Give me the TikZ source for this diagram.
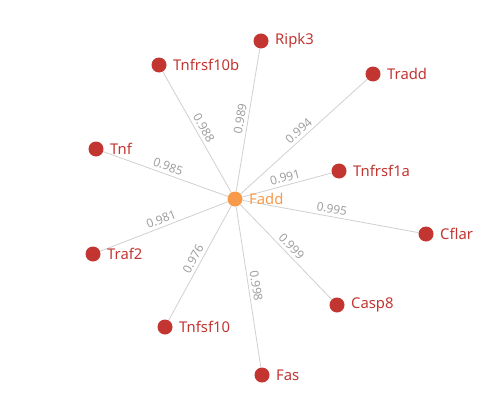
\documentclass[tikz,border=0pt]{standalone}
\usepackage{fontspec}
\setmainfont{Noto Sans}
\usepackage{xcolor}
\usepackage{tikz}
\usetikzlibrary{positioning, backgrounds}

\definecolor{genered}{HTML}{C23531}
\definecolor{huborange}{HTML}{F89A4C}
\definecolor{edgegray}{HTML}{D0D0D0}
\definecolor{scoregray}{HTML}{A0A0A0}

\begin{document}
\begin{tikzpicture}[x=1pt,y=1pt,
    gene/.style={circle,fill=genered,inner sep=0pt,minimum size=15pt,
        label={[text=genered,font=\fontsize{14.8}{17}\selectfont,label distance=3pt]right:#1}},
    hub/.style={circle,fill=huborange,inner sep=0pt,minimum size=15pt,
        label={[text=huborange,font=\fontsize{14.8}{17}\selectfont,label distance=3pt]right:#1}},
    link/.style={draw=edgegray,line width=0.8pt},
    score/.style={midway,above,sloped,text=scoregray,font=\fontsize{12}{14}\selectfont,inner sep=3pt}]

        \useasboundingbox (0,0) rectangle (500,400);

        %=====================
        % Genes
        %=====================
        \node[hub=Fadd] (fadd) at (235,201) {};

        \node[gene=Ripk3] (ripk3) at (261,359) {};
        \node[gene=Tnfrsf10b] (tnfrsf10b) at (159,335) {};
        \node[gene=Tradd] (tradd) at (373,326) {};
        \node[gene=Tnf] (tnf) at (96,251) {};
        \node[gene=Tnfrsf1a] (tnfrsf1a) at (339,229) {};
        \node[gene=Cflar] (cflar) at (426,166) {};
        \node[gene=Traf2] (traf2) at (93,146) {};
        \node[gene=Casp8] (casp8) at (337,95) {};
        \node[gene=Tnfsf10] (tnfsf10) at (165,73) {};
        \node[gene=Fas] (fas) at (262,25) {};

        %=====================
        % Interactions with scores
        %=====================
        \begin{scope}[on background layer]
        \draw[link] (fadd) -- node[score] {0.989} (ripk3);
        \draw[link] (fadd) -- node[score] {0.988} (tnfrsf10b);
        \draw[link] (fadd) -- node[score] {0.994} (tradd);
        \draw[link] (fadd) -- node[score] {0.985} (tnf);
        \draw[link] (fadd) -- node[score] {0.991} (tnfrsf1a);
        \draw[link] (fadd) -- node[score] {0.995} (cflar);
        \draw[link] (fadd) -- node[score] {0.981} (traf2);
        \draw[link] (fadd) -- node[score] {0.999} (casp8);
        \draw[link] (fadd) -- node[score] {0.976} (tnfsf10);
        \draw[link] (fadd) -- node[score] {0.998} (fas);
        \end{scope}

    \end{tikzpicture}
\end{document}
